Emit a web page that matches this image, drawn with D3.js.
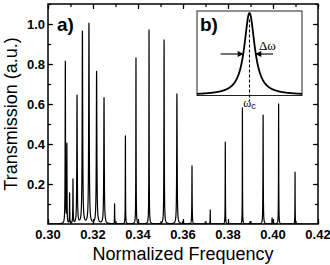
<!DOCTYPE html>
<html>
<head>
<meta charset="utf-8">
<script src="https://cdn.jsdelivr.net/npm/d3@7"></script>
<style>
  body { margin: 0; background: #fff; }
  svg { display: block; }
  .tick-label { font-family: Arial, "Liberation Sans", sans-serif; font-weight: bold; font-size: 13px; }
</style>
</head>
<body>
<div id="chart"></div>
<script>
// resonance peaks
const peakFreq   = [0.3077, 0.3084, 0.3096, 0.3111, 0.3129, 0.3153, 0.3182, 0.3216, 0.3249, 0.3296,
                    0.3344, 0.3391, 0.3449, 0.3516, 0.3573, 0.3599, 0.3640, 0.3698, 0.3721, 0.3788,
                    0.3864, 0.3898, 0.3956, 0.3996, 0.4025, 0.4098]
const peakHeight = [0.81, 0.39, 0.15, 0.22, 0.64, 0.96, 1.00, 0.76, 0.63, 0.10,
                    0.44, 0.83, 0.97, 0.92, 0.65, 0.012, 0.29, 0.008, 0.07, 0.41,
                    0.58, 0.012, 0.545, 0.03, 0.60, 0.26]
const peakWidth  = [0.00009, 0.00006, 0.00006, 0.00008, 0.00012, 0.00014, 0.00014, 0.00014, 0.00013, 0.00006,
                    0.00006, 0.00007, 0.00007, 0.00009, 0.00012, 0.00008, 0.00008, 0.00008, 0.00005, 0.00006,
                    0.00005, 0.00008, 0.00008, 0.00008, 0.00006, 0.00005]

const xTicks = [0.30, 0.32, 0.34, 0.36, 0.38, 0.40, 0.42]
const yTicks = [0.2, 0.4, 0.6, 0.8, 1.0]

// inset b): single resonance, relative units
const insetCenter = 0
const insetHeight = 1
const insetWidth = 0.12

const W = 330, H = 265
const svg = d3.select("#chart").append("svg").attr("width", W).attr("height", H)

const x = d3.scaleLinear().domain([0.30, 0.42]).range([48, 318])
const y = d3.scaleLinear().domain([0, 1.1]).range([224, 4])

function lorentz(f, c, h, g){
    return h * g * g / ((f - c) * (f - c) + g * g)
}

// sample the spectrum: coarse grid plus dense points around each peak
let fs = d3.range(0.30, 0.42, 0.00002)
const offs = [0, 0.25, 0.5, 1, 1.5, 2, 3, 4, 6, 9, 14, 20]
peakFreq.forEach((c, i) => {
    offs.forEach(k => { fs.push(c + k * peakWidth[i]); fs.push(c - k * peakWidth[i]) })
})
fs = fs.filter(f => f >= 0.30 && f <= 0.42).sort(d3.ascending)
const spectrum = fs.map(f => [f, d3.sum(peakFreq, (c, i) => lorentz(f, c, peakHeight[i], peakWidth[i]))])

svg.append("defs").append("clipPath").attr("id", "plotclip")
    .append("rect").attr("x", 48).attr("y", 4).attr("width", 270).attr("height", 220)

svg.append("path")
    .datum(spectrum)
    .attr("clip-path", "url(#plotclip)")
    .attr("fill", "none")
    .attr("stroke", "#000")
    .attr("stroke-width", 1.2)
    .attr("stroke-linejoin", "round")
    .attr("d", d3.line().x(d => x(d[0])).y(d => y(d[1])))

// axes, ticks pointing inward on all four sides
const xMinor = d3.range(0.30, 0.4201, 0.01)
const yMinor = d3.range(0.1, 1.101, 0.1)

function ticksOn(axis, scale, vals, size){
    return axis(scale).tickValues(vals).tickSize(size).tickFormat("")
}
svg.append("g").attr("transform", "translate(0,224)").call(ticksOn(d3.axisTop, x, xMinor, 3))
svg.append("g").attr("transform", "translate(0,224)").call(ticksOn(d3.axisTop, x, xTicks, 5))
svg.append("g").attr("transform", "translate(0,4)").call(ticksOn(d3.axisBottom, x, xMinor, 3))
svg.append("g").attr("transform", "translate(0,4)").call(ticksOn(d3.axisBottom, x, xTicks, 5))
svg.append("g").attr("transform", "translate(48,0)").call(ticksOn(d3.axisRight, y, yMinor, 3))
svg.append("g").attr("transform", "translate(48,0)").call(ticksOn(d3.axisRight, y, yTicks, 5))
svg.append("g").attr("transform", "translate(318,0)").call(ticksOn(d3.axisLeft, y, yMinor, 3))
svg.append("g").attr("transform", "translate(318,0)").call(ticksOn(d3.axisLeft, y, yTicks, 5))
svg.selectAll(".domain").remove()
svg.selectAll(".tick line").attr("stroke", "#000").attr("stroke-width", 1.2)

svg.append("rect").attr("x", 48).attr("y", 4).attr("width", 270).attr("height", 220)
    .attr("fill", "none").attr("stroke", "#000").attr("stroke-width", 1.5)

svg.selectAll(".xl").data(xTicks).join("text")
    .attr("class", "tick-label")
    .attr("x", d => x(d)).attr("y", 239)
    .attr("text-anchor", "middle")
    .text(d => d3.format(".2f")(d))

svg.selectAll(".yl").data(yTicks).join("text")
    .attr("class", "tick-label")
    .attr("x", 45).attr("y", d => y(d) + 4.5)
    .attr("text-anchor", "end")
    .text(d => d3.format(".1f")(d))

svg.append("text")
    .attr("x", 183).attr("y", 260)
    .attr("text-anchor", "middle")
    .style("font-family", "Arial, 'Liberation Sans', sans-serif").style("font-size", "18px")
    .text("Normalized Frequency")

svg.append("text")
    .attr("transform", "translate(17,114) rotate(-90)")
    .attr("text-anchor", "middle")
    .style("font-family", "Arial, 'Liberation Sans', sans-serif").style("font-size", "18px")
    .text("Transmission (a.u.)")

svg.append("text")
    .attr("x", 57).attr("y", 31)
    .style("font-family", "Arial, 'Liberation Sans', sans-serif").style("font-size", "19px").style("font-weight", "bold")
    .text("a)")

// inset b)
const xi = d3.scaleLinear().domain([-1, 1]).range([197, 302])
const yi = d3.scaleLinear().domain([0, 1]).range([95, 13])

svg.append("rect").attr("x", 197).attr("y", 11).attr("width", 105).attr("height", 84.5)
    .attr("fill", "#fff").attr("stroke", "#222").attr("stroke-width", 1)

const insetPts = d3.range(-1, 1.0001, 0.002).concat([insetCenter]).sort(d3.ascending)
svg.append("path")
    .datum(insetPts.map(f => [f, lorentz(f, insetCenter, insetHeight, insetWidth)]))
    .attr("fill", "none").attr("stroke", "#000").attr("stroke-width", 1.8)
    .attr("d", d3.line().x(d => xi(d[0])).y(d => yi(d[1])))

svg.append("line")
    .attr("x1", xi(insetCenter)).attr("x2", xi(insetCenter))
    .attr("y1", yi(0.92)).attr("y2", 101)
    .attr("stroke", "#000").attr("stroke-width", 1.1).attr("stroke-dasharray", "3,2")

function arrow(x0, x1, yy){
    svg.append("line").attr("x1", x0).attr("x2", x1).attr("y1", yy).attr("y2", yy)
        .attr("stroke", "#000").attr("stroke-width", 1.1)
    const d = x1 > x0 ? -1 : 1
    svg.append("path")
        .attr("d", `M${x1},${yy} L${x1 + d * 6},${yy - 3} L${x1 + d * 6},${yy + 3} Z`)
        .attr("fill", "#000")
}
const halfY = yi(insetHeight / 2)
arrow(xi(-0.55), xi(insetCenter - insetWidth) + 0.5, halfY)
arrow(xi(0.45), xi(insetCenter + insetWidth) - 0.5, halfY)

svg.append("text")
    .attr("x", 259).attr("y", 50)
    .style("font-family", "'Liberation Serif', 'DejaVu Serif', serif").style("font-size", "13px")
    .text("Δω")

const wc = svg.append("text")
    .attr("x", xi(insetCenter)).attr("y", 107)
    .attr("text-anchor", "middle")
    .style("font-family", "'Liberation Serif', 'DejaVu Serif', serif").style("font-size", "12px")
wc.append("tspan").text("ω")
wc.append("tspan").attr("dy", 2).style("font-family", "Arial, sans-serif").style("font-size", "9px").text("c")

svg.append("text")
    .attr("x", 200).attr("y", 31)
    .style("font-family", "Arial, 'Liberation Sans', sans-serif").style("font-size", "19px").style("font-weight", "bold")
    .text("b)")
</script>
</body>
</html>
